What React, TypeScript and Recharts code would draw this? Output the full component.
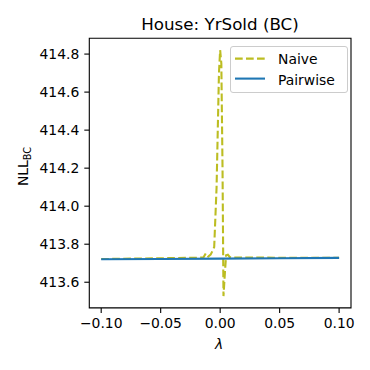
import { LineChart, Line, XAxis, YAxis, ReferenceArea, Legend } from "recharts";

// values
const naiveLambda = [
  -0.1, -0.05, -0.02, -0.014, -0.012, -0.01, -0.008, -0.006, -0.005, -0.003,
  -0.001, 0.0, 0.001, 0.002, 0.0028, 0.004, 0.005, 0.0065, 0.008, 0.01, 0.02,
  0.05, 0.1,
];
const naiveNll = [
  413.722, 413.726, 413.729, 413.731, 413.752, 413.735, 413.745, 413.77,
  413.785, 414.1, 414.7, 414.821, 414.75, 414.2, 413.527, 413.65, 413.742,
  413.745, 413.733, 413.73, 413.73, 413.729, 413.728,
];
const pairwiseLambda = [-0.1, -0.05, 0.0, 0.05, 0.1];
const pairwiseNll = [413.721, 413.7225, 413.724, 413.726, 413.728];

const xTicks = [-0.1, -0.05, 0, 0.05, 0.1];
const yTicks = [413.6, 413.8, 414.0, 414.2, 414.4, 414.6, 414.8];

const X_DOMAIN: [number, number] = [-0.11, 0.11];
const Y_DOMAIN: [number, number] = [413.465, 414.883];

const naiveData = naiveLambda.map((x, i) => ({ x, y: naiveNll[i] }));
const pairwiseData = pairwiseLambda.map((x, i) => ({ x, y: pairwiseNll[i] }));

const FONT = "DejaVu Sans";
const OLIVE = "#bcbd22";
const BLUE = "#1f77b4";

const tickStyle = { fontSize: 13.9, fill: "#000", fontFamily: FONT };

function LegendBox() {
  return (
    <div
      style={{
        width: 118,
        height: 47.3,
        boxSizing: "border-box",
        border: "1px solid #cccccc",
        borderRadius: 3,
        background: "rgba(255,255,255,0.8)",
      }}
    >
      <svg width={116} height={45} style={{ display: "block" }}>
        <line x1={4} x2={34} y1={11.6} y2={11.6} stroke={OLIVE} strokeWidth={2.1} strokeDasharray="7.7 3.3" />
        <text x={47} y={16.6} fontSize={13.9} fontFamily={FONT} fill="#000">
          Naive
        </text>
        <line x1={4} x2={34} y1={31.6} y2={31.6} stroke={BLUE} strokeWidth={2.1} />
        <text x={47} y={38.3} fontSize={13.9} fontFamily={FONT} fill="#000">
          Pairwise
        </text>
      </svg>
    </div>
  );
}

export default function App() {
  return (
    <div style={{ position: "absolute", left: 0, top: 0, width: 370, height: 370, background: "#fff" }}>
      <LineChart width={370} height={370} margin={{ top: 38.3, right: 19, bottom: 32, left: 0 }}>
        <XAxis
          dataKey="x"
          type="number"
          domain={X_DOMAIN}
          allowDataOverflow
          ticks={xTicks}
          tickFormatter={(v: number) => v.toFixed(2).replace("-", "\u2212")}
          tick={tickStyle}
          tickSize={5}
          tickMargin={5}
          tickLine={{ stroke: "#000", strokeWidth: 1.1 }}
          axisLine={false}
          height={30.1}
        />
        <YAxis
          type="number"
          domain={Y_DOMAIN}
          allowDataOverflow
          ticks={yTicks}
          tickFormatter={(v: number) => v.toFixed(1)}
          tick={tickStyle}
          tickSize={5}
          tickMargin={5}
          tickLine={{ stroke: "#000", strokeWidth: 1.1 }}
          axisLine={false}
          width={89.3}
        />
        <Line
          data={naiveData}
          dataKey="y"
          type="linear"
          stroke={OLIVE}
          strokeWidth={2.1}
          strokeDasharray="7.7 3.3"
          dot={false}
          isAnimationActive={false}
        />
        <Line
          data={pairwiseData}
          dataKey="y"
          type="linear"
          stroke={BLUE}
          strokeWidth={2.1}
          dot={false}
          isAnimationActive={false}
        />
        <ReferenceArea
          x1={X_DOMAIN[0]}
          x2={X_DOMAIN[1]}
          y1={Y_DOMAIN[0]}
          y2={Y_DOMAIN[1]}
          fill="none"
          stroke="#000"
          strokeWidth={1.1}
        />
        <Legend
          layout="horizontal"
          verticalAlign="middle"
          align="center"
          wrapperStyle={{ position: "absolute", left: 230, top: 45.7, width: 118, height: 47.3 }}
          content={() => <LegendBox />}
        />
      </LineChart>

      {/* title and axis labels */}
      <svg
        width={370}
        height={370}
        style={{ position: "absolute", left: 0, top: 0, pointerEvents: "none" }}
      >
        <text x={220} y={30} textAnchor="middle" fontSize={16.7} fontFamily={FONT} fill="#000">
          House: YrSold (BC)
        </text>
        <text x={219} y={349} textAnchor="middle" fontSize={13.9} fontFamily={FONT} fontStyle="italic" fill="#000">
          λ
        </text>
        <text
          transform="translate(28.3,166.5) rotate(-90)"
          textAnchor="middle"
          fontSize={13.9}
          fontFamily={FONT}
          fill="#000"
        >
          NLL
          <tspan fontSize={9.7} dy={2.5}>
            BC
          </tspan>
        </text>
      </svg>
    </div>
  );
}
